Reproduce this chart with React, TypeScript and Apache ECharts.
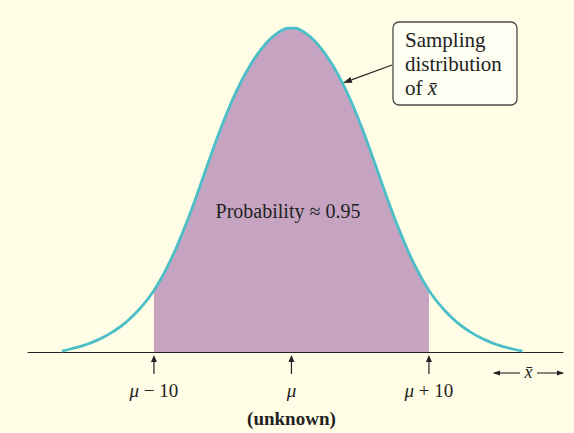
import React, { useEffect, useRef } from "react";
import * as echarts from "echarts";

// Curve: x in units (10 units = gap between μ and μ+10), height relative to peak
const xValues = [-16.7, -16, -15, -14, -13, -12, -11, -10, -9, -8, -7, -6, -5, -4, -3, -2, -1, 0, 1, 2, 3, 4, 5, 6, 7, 8, 9, 10, 11, 12, 13, 14, 15, 16, 16.8];
const density = [0.003, 0.01, 0.022, 0.039, 0.062, 0.093, 0.135, 0.19, 0.265, 0.36, 0.47, 0.59, 0.705, 0.805, 0.885, 0.945, 0.985, 1.0, 0.985, 0.945, 0.885, 0.805, 0.705, 0.59, 0.47, 0.36, 0.265, 0.19, 0.135, 0.093, 0.062, 0.039, 0.022, 0.01, 0.003];
const shadeFrom = -10;
const shadeTo = 10;
const tickValues = [-10, 0, 10];
const tickLabels = ["{i|μ}{n| − 10}", "{i|μ}", "{i|μ}{n| + 10}"];
const calloutLines = ["{n|Sampling}", "{n|distribution}", "{n|of }{i|x̄}"];
const probabilityLabel = "Probability ≈ 0.95";
const unknownLabel = "(unknown)";
const axisVariable = "x̄";

const BG = "#fffde6";
const CURVE = "#4cbec7";
const FILL = "#c6a4c1";
const INK = "#222222";
const SERIF = "'Liberation Serif', 'Times New Roman', serif";

export default function App() {
  const ref = useRef<HTMLDivElement>(null);

  useEffect(() => {
    document.body.style.margin = "0";
    const chart = echarts.init(ref.current!, null, { renderer: "svg" });
    const curveData = xValues.map((x, i) => [x, density[i]]);
    const shadeData = curveData.filter((p) => p[0] >= shadeFrom && p[0] <= shadeTo);

    chart.setOption({
      animation: false,
      backgroundColor: BG,
      grid: { left: 28, right: 11, top: 28, bottom: 81 },
      xAxis: {
        type: "value",
        min: -19.16,
        max: 19.75,
        axisLine: { show: true, onZero: false, lineStyle: { color: INK, width: 1.2 } },
        axisTick: { show: false },
        axisLabel: { show: false },
        splitLine: { show: false },
      },
      yAxis: {
        type: "value",
        min: 0,
        max: 1,
        show: false,
      },
      series: [
        {
          type: "line",
          data: shadeData,
          smooth: 0.5,
          symbol: "none",
          lineStyle: { width: 0 },
          areaStyle: { color: FILL, opacity: 1 },
          z: 1,
        },
        {
          type: "line",
          data: curveData,
          smooth: 0.5,
          symbol: "none",
          lineStyle: { color: CURVE, width: 2.8 },
          z: 2,
        },
      ],
    });

    const px = (v: number) => chart.convertToPixel({ xAxisIndex: 0 }, v) as number;
    const base = chart.convertToPixel({ yAxisIndex: 0 }, 0) as number;

    const elements: any[] = [];
    tickValues.forEach((v, i) => {
      const x = px(v);
      elements.push({
        type: "line",
        shape: { x1: x, y1: base + 22, x2: x, y2: base + 7 },
        style: { stroke: INK, lineWidth: 1.2 },
      });
      elements.push({
        type: "polygon",
        shape: { points: [[x - 3, base + 10], [x + 3, base + 10], [x, base + 3]] },
        style: { fill: INK },
      });
      elements.push({
        type: "text",
        x,
        y: base + 38,
        style: {
          text: tickLabels[i],
          align: "center",
          verticalAlign: "middle",
          rich: {
            i: { fontFamily: SERIF, fontStyle: "italic", fontSize: 19, fill: INK },
            n: { fontFamily: SERIF, fontSize: 19, fill: INK },
          },
        },
      });
    });

    elements.push({
      type: "text",
      x: px(0),
      y: base + 66,
      style: {
        text: unknownLabel,
        align: "center",
        verticalAlign: "middle",
        fontFamily: SERIF,
        fontWeight: "bold",
        fontSize: 19,
        fill: INK,
      },
    });

    elements.push({
      type: "text",
      x: 288,
      y: 211,
      style: {
        text: probabilityLabel,
        align: "center",
        verticalAlign: "middle",
        fontFamily: SERIF,
        fontSize: 20,
        fill: INK,
      },
    });

    // ← x̄ → at right end of the axis
    const ay = base + 21;
    elements.push({ type: "line", shape: { x1: 494, y1: ay, x2: 520, y2: ay }, style: { stroke: INK, lineWidth: 1.1 } });
    elements.push({ type: "polygon", shape: { points: [[493, ay], [500, ay - 2.6], [500, ay + 2.6]] }, style: { fill: INK } });
    elements.push({ type: "line", shape: { x1: 537, y1: ay, x2: 563, y2: ay }, style: { stroke: INK, lineWidth: 1.1 } });
    elements.push({ type: "polygon", shape: { points: [[564, ay], [557, ay - 2.6], [557, ay + 2.6]] }, style: { fill: INK } });
    elements.push({
      type: "text",
      x: 528.5,
      y: ay - 1,
      style: {
        text: axisVariable,
        align: "center",
        verticalAlign: "middle",
        fontFamily: SERIF,
        fontStyle: "italic",
        fontSize: 18,
        fill: INK,
      },
    });

    // callout box
    elements.push({
      type: "rect",
      shape: { x: 393, y: 22, width: 124, height: 83, r: 6 },
      style: { fill: "#fffef2", stroke: "#4a4a4a", lineWidth: 1.3 },
    });
    calloutLines.forEach((t, i) => {
      elements.push({
        type: "text",
        x: 405,
        y: 40 + i * 24,
        style: {
          text: t,
          align: "left",
          verticalAlign: "middle",
          rich: {
            n: { fontFamily: SERIF, fontSize: 21, fill: INK },
            i: { fontFamily: SERIF, fontStyle: "italic", fontSize: 21, fill: INK },
          },
        },
      });
    });

    // pointer arrow from callout to curve
    const sx = 392, sy = 65, tx = 343, ty = 83;
    const dx = tx - sx, dy = ty - sy;
    const len = Math.hypot(dx, dy);
    const ux = dx / len, uy = dy / len;
    const hl = 9, hw = 3;
    const bx = tx - ux * hl, by = ty - uy * hl;
    elements.push({ type: "line", shape: { x1: sx, y1: sy, x2: bx, y2: by }, style: { stroke: INK, lineWidth: 1.2 } });
    elements.push({
      type: "polygon",
      shape: { points: [[tx, ty], [bx - uy * hw, by + ux * hw], [bx + uy * hw, by - ux * hw]] },
      style: { fill: INK },
    });

    chart.setOption({ graphic: { elements: elements.map((e) => ({ ...e, z: 100 })) } });

    return () => chart.dispose();
  }, []);

  return (
    <div
      ref={ref}
      style={{ position: "absolute", left: 0, top: 0, width: 574, height: 433 }}
    />
  );
}
